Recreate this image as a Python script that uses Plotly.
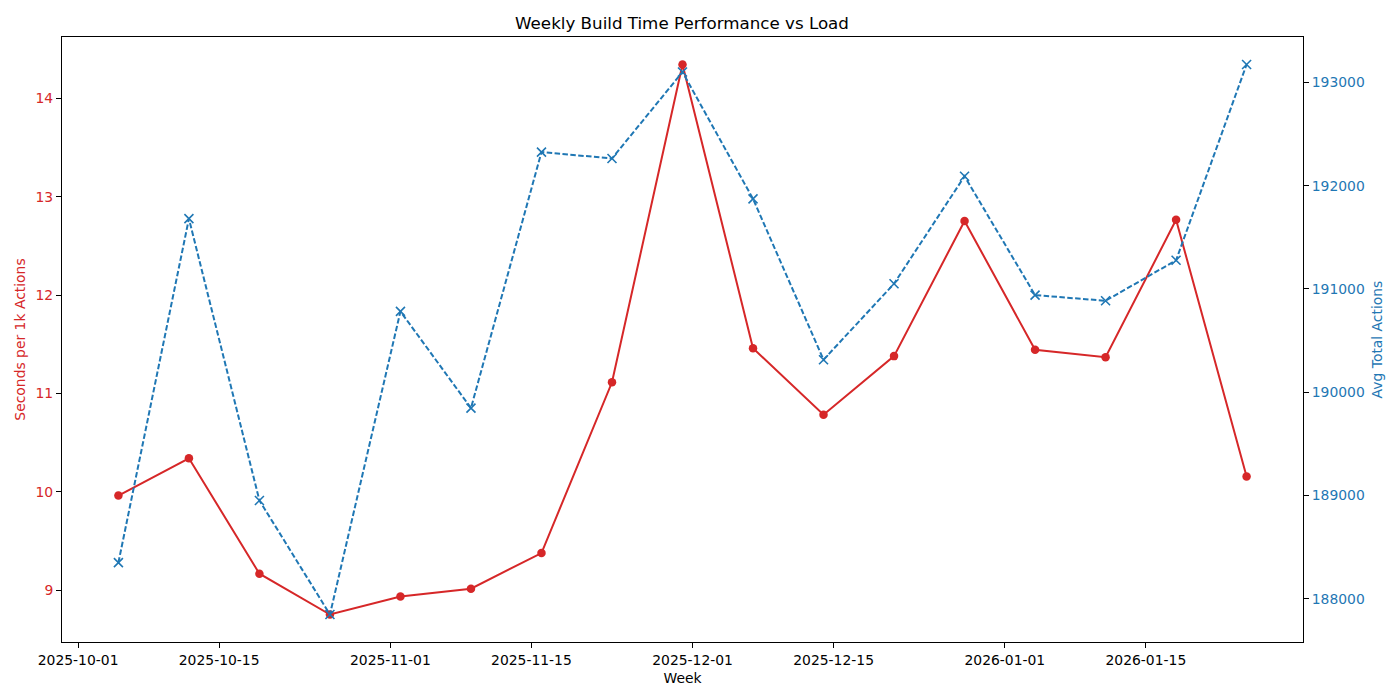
import pandas as pd
import plotly.graph_objects as go

weeks = ["2025-10-05", "2025-10-12", "2025-10-19", "2025-10-26", "2025-11-02", "2025-11-09",
         "2025-11-16", "2025-11-23", "2025-11-30", "2025-12-07", "2025-12-14", "2025-12-21",
         "2025-12-28", "2026-01-04", "2026-01-11", "2026-01-18", "2026-01-25"]
sec_per_1k = [9.963, 10.342, 9.169, 8.754, 8.936, 9.016, 9.379, 11.115, 14.346, 11.462,
              10.785, 11.381, 12.755, 11.445, 11.369, 12.767, 10.157]
avg_actions = [188349, 191680, 188951, 187847, 190782, 189846, 192325, 192263, 193100, 191872,
               190314, 191050, 192091, 190940, 190885, 191277, 193173]
x_ticks = ["2025-10-01", "2025-10-15", "2025-11-01", "2025-11-15", "2025-12-01",
           "2025-12-15", "2026-01-01", "2026-01-15"]
left_ticks = [9, 10, 11, 12, 13, 14]
right_ticks = [188000, 189000, 190000, 191000, 192000, 193000]

RED = "#d62728"
BLUE = "#1f77b4"
FONT = "DejaVu Sans"


def padded(lo, hi, frac=0.05):
    span = hi - lo
    return [lo - frac * span, hi + frac * span]


dates = pd.to_datetime(weeks)
dmin, dmax = dates.min(), dates.max()
dspan = dmax - dmin
xr = [(dmin - 0.05 * dspan).strftime("%Y-%m-%d %H:%M:%S"),
      (dmax + 0.05 * dspan).strftime("%Y-%m-%d %H:%M:%S")]

fig = go.Figure()
fig.add_trace(go.Scatter(
    x=weeks, y=sec_per_1k, mode="lines+markers", name="Seconds per 1k Actions",
    line=dict(color=RED, width=2),
    marker=dict(symbol="circle", size=8.5, color=RED),
    yaxis="y"))
fig.add_trace(go.Scatter(
    x=weeks, y=avg_actions, mode="lines+markers", name="Avg Total Actions",
    line=dict(color=BLUE, width=2, dash="5.5px,2.4px"),
    marker=dict(symbol="x-thin-open", size=9, color=BLUE, line=dict(color=BLUE, width=1.6)),
    yaxis="y2"))

fig.update_layout(
    width=1400, height=700,
    margin=dict(l=62, r=97, t=37, b=58, autoexpand=False),
    paper_bgcolor="white", plot_bgcolor="white",
    showlegend=False,
    font=dict(family=FONT, size=14, color="black"),
    title=dict(text="Weekly Build Time Performance vs Load", x=682 / 1400, xanchor="center",
               y=1 - 23 / 700, yanchor="middle", font=dict(family=FONT, size=16.7, color="black")),
    xaxis=dict(
        type="date", range=xr, tickvals=x_ticks, ticktext=x_ticks,
        showgrid=False, zeroline=False,
        showline=True, linecolor="black", linewidth=1, mirror=True,
        ticks="outside", ticklen=5, tickcolor="black", tickwidth=1,
        tickfont=dict(family=FONT, size=13.9, color="black"),
        title=dict(text="Week", font=dict(family=FONT, size=13.9, color="black"), standoff=6),
    ),
    yaxis=dict(
        range=padded(min(sec_per_1k), max(sec_per_1k)), tickvals=left_ticks,
        showgrid=False, zeroline=False,
        showline=True, linecolor="black", linewidth=1,
        ticks="outside", ticklen=5, tickcolor="black", tickwidth=1,
        tickfont=dict(family=FONT, size=13.9, color=RED),
        title=dict(text="Seconds per 1k Actions", font=dict(family=FONT, size=13.9, color=RED),
                   standoff=6),
    ),
    yaxis2=dict(
        overlaying="y", side="right",
        range=padded(min(avg_actions), max(avg_actions)), tickvals=right_ticks,
        tickformat="d",
        showgrid=False, zeroline=False,
        showline=True, linecolor="black", linewidth=1,
        ticks="outside", ticklen=5, tickcolor="black", tickwidth=1,
        tickfont=dict(family=FONT, size=13.9, color=BLUE),
        title=dict(text="Avg Total Actions", font=dict(family=FONT, size=13.9, color=BLUE),
                   standoff=8),
    ),
)

fig.write_html("out.html", config={"displayModeBar": False},
               post_script="document.body.style.margin='0';")
